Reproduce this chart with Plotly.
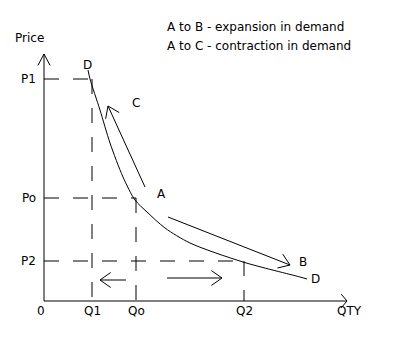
import math
import plotly.graph_objects as go

# ---- data (diagram units: quantity / price) ----
curve_q = [44, 46, 56, 66, 79, 91, 103, 121, 146, 199, 256, 263]
curve_p = [231, 222, 191, 158, 124, 101, 89, 73, 58, 39, 24, 22]

price_levels = {"P1": 222, "Po": 103, "P2": 40}
qty_levels = {"Q1": 48, "Qo": 92, "Q2": 200}
curve_at_price = {"P1": 46, "Po": 92, "P2": 200}

q_axis_max = 303
p_axis_max = 247

# arrows: (tail_q, tail_p, tip_q, tip_p)
move_arrows = [
    (101, 114, 64, 195),   # A -> C
    (124, 84, 246, 36),    # A -> B
    (82, 21, 56, 21),      # quantity falls
    (123, 23, 178, 23),    # quantity rises
]

legend_lines = ["A to B - expansion in demand", "A to C - contraction in demand"]
point_labels = [("D", 43, 236), ("C", 92, 198), ("A", 117, 107), ("B", 259, 39), ("D", 271, 22)]

FONT = "DejaVu Sans"


def barbs(tq, tp, hq, hp, length=13, ang=32):
    dx, dy = tq - hq, tp - hp
    n = math.hypot(dx, dy)
    ux, uy = dx / n, dy / n
    xs, ys = [], []
    for s in (1, -1):
        a = math.radians(ang) * s
        bx = ux * math.cos(a) - uy * math.sin(a)
        by = ux * math.sin(a) + uy * math.cos(a)
        xs += [hq + bx * length, hq, None]
        ys += [hp + by * length, hp, None]
    return xs, ys


fig = go.Figure()

# dashed guide lines
dx, dy = [], []
for k, p in price_levels.items():
    dx += [0, curve_at_price[k], None]
    dy += [p, p, None]
for (kq, q), (kp, p) in zip(qty_levels.items(), price_levels.items()):
    dx += [q, q, None]
    dy += [p, 0, None]
fig.add_trace(go.Scatter(x=dx, y=dy, mode="lines",
                         line=dict(color="black", width=1, dash="15px,14px"),
                         hoverinfo="skip"))

# axes with open arrowheads
ax_x = [0, 0, None, 0, q_axis_max, None]
ax_y = [p_axis_max, 0, None, 0, 0, None]
bx, by = barbs(0, 0, 0, p_axis_max, length=13, ang=28)
ax_x += bx; ax_y += by
bx, by = barbs(0, 0, q_axis_max, 0, length=9, ang=50)
ax_x += bx; ax_y += by
fig.add_trace(go.Scatter(x=ax_x, y=ax_y, mode="lines",
                         line=dict(color="black", width=1), hoverinfo="skip"))

# demand curve
fig.add_trace(go.Scatter(x=curve_q, y=curve_p, mode="lines",
                         line=dict(color="black", width=1, shape="spline", smoothing=0.8),
                         hoverinfo="skip"))

# movement arrows
mx, my = [], []
for tq, tp, hq, hp in move_arrows:
    mx += [tq, hq, None]
    my += [tp, hp, None]
    bx, by = barbs(tq, tp, hq, hp, length=13, ang=35)
    mx += bx; my += by
fig.add_trace(go.Scatter(x=mx, y=my, mode="lines",
                         line=dict(color="black", width=1), hoverinfo="skip"))

ann = []
def txt(s, x, y, xa="center", size=12):
    ann.append(dict(text=s, x=x, y=y, xref="x", yref="y", showarrow=False,
                    xanchor=xa, yanchor="middle",
                    font=dict(family=FONT, size=size, color="black")))

txt("Price", -15, 263)
for k, p in price_levels.items():
    txt(k, -6, p, xa="right")
txt("0", -3, -10)
for k, q in qty_levels.items():
    txt(k, q, -10)
txt("QTY", 305, -10)
for s, x, y in point_labels:
    txt(s, x, y)
for i, s in enumerate(legend_lines):
    txt(s, 121, 274 - 19 * i, xa="left")

fig.update_layout(
    width=393, height=338, autosize=False,
    margin=dict(l=0, r=0, t=0, b=0),
    paper_bgcolor="white", plot_bgcolor="white",
    showlegend=False, annotations=ann,
    xaxis=dict(range=[-44, 349], visible=False, fixedrange=True),
    yaxis=dict(range=[-37, 301], visible=False, fixedrange=True),
)

fig.write_html("out.html")
